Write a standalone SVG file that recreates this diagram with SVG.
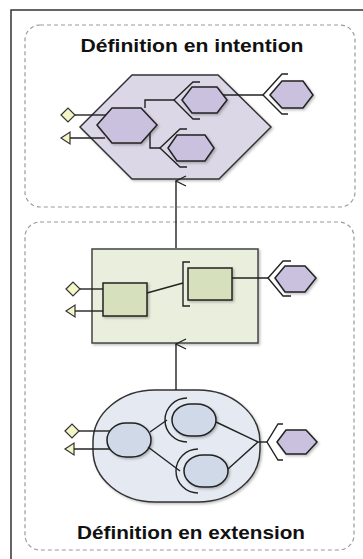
<svg xmlns="http://www.w3.org/2000/svg" width="363" height="559" viewBox="0 0 363 559">
<defs>
<filter id="sh" x="-10%" y="-10%" width="130%" height="130%">
<feDropShadow dx="1.5" dy="1.5" stdDeviation="1" flood-color="#000" flood-opacity="0.25"/>
</filter>
<marker id="arr" viewBox="0 0 12 12" refX="6" refY="1" markerWidth="12" markerHeight="12" markerUnits="userSpaceOnUse" orient="auto-start-reverse">
<path d="M1,11 L6,1 L11,11" fill="none" stroke="#222" stroke-width="1.3"/>
</marker>
</defs>
<style>
.frame{fill:none;stroke:#333;stroke-width:1.5}
.zone{fill:none;stroke:#9a9a9a;stroke-width:1.2;stroke-dasharray:4,3}
.title{font-family:"Liberation Sans",Arial,sans-serif;font-weight:bold;font-size:19px;fill:#111;text-anchor:middle}
.ln{fill:none;stroke:#222;stroke-width:1.4}
.sock{fill:none;stroke:#222;stroke-width:1.4}
.bighex{fill:#dcd7e7;stroke:#333;stroke-width:1.5}
.hex{fill:#c9c1dd;stroke:#222;stroke-width:1.5}
.bigrect{fill:#e9efdc;stroke:#444;stroke-width:1.5}
.rect{fill:#d6e0bd;stroke:#222;stroke-width:1.5}
.bigoval{fill:#e5eaf2;stroke:#333;stroke-width:1.5}
.oval{fill:#cfd9e8;stroke:#222;stroke-width:1.5}
.port{fill:#f4f6c6;stroke:#333;stroke-width:1.2}
</style>
<rect width="363" height="559" fill="#fff"/>
<path class="frame" d="M11,559 V10 H363"/>
<rect class="zone" x="25" y="25" width="330" height="182" rx="15"/>
<rect class="zone" x="25" y="222" width="329" height="328" rx="15"/>
<text class="title" x="192" y="52" textLength="223" lengthAdjust="spacingAndGlyphs">Définition en intention</text>
<text class="title" x="191" y="539" textLength="228" lengthAdjust="spacingAndGlyphs">Définition en extension</text>

<g id="intention">
<polygon class="bighex" filter="url(#sh)" points="80,127 132,75 218,75 271,127 219,179 132,179"/>
<polygon class="hex" filter="url(#sh)" points="97,125 112,108 141,108 157,125 141,143 112,143"/>
<polygon class="hex" filter="url(#sh)" points="182,100 192,87 217,87 227,100 217,113 192,113"/>
<polyline class="sock" points="200,82 193,82 174,100 193,119 200,119"/>
<polygon class="hex" filter="url(#sh)" points="168,148 177,135 205,135 214,148 205,161 177,161"/>
<polyline class="sock" points="187,129 180,129 160,148 180,167 187,167"/>
<polygon class="port" points="61,115 68,108 75,115 68,122"/>
<polygon class="port" points="61,138 70,132 70,144"/>
</g>
<g id="intention-ext">
<polygon class="hex" filter="url(#sh)" points="270,95 282,81 303,81 313,95 303,108 282,108"/>
<polyline class="sock" points="288,74 282,74 263,95 282,114 288,114"/>
</g>

<g id="composant">
<rect class="bigrect" filter="url(#sh)" x="92" y="249" width="166" height="94"/>
<rect class="rect" filter="url(#sh)" x="103" y="283" width="44" height="33"/>
<rect class="rect" filter="url(#sh)" x="188" y="268" width="44" height="32"/>
<polyline class="sock" points="190,262 183,262 183,306 190,306"/>
<polygon class="port" points="66,289 73,282 80,289 73,296"/>
<polygon class="port" points="66,311 75,305 75,317"/>
</g>
<g id="composant-ext">
<polygon class="hex" filter="url(#sh)" points="275,278 285,266 305,266 316,278 305,292 285,292"/>
<polyline class="sock" points="291,261 283,261 268,278 283,296 291,296"/>
</g>

<g id="extension">
<rect class="bigoval" filter="url(#sh)" x="93" y="390" width="167" height="112" rx="62" ry="52"/>
<rect class="oval" filter="url(#sh)" x="107" y="423" width="44" height="34" rx="19" ry="17"/>
<rect class="oval" filter="url(#sh)" x="172" y="404" width="44" height="32" rx="19" ry="16"/>
<path class="sock" d="M187,398 A22,22 0 0 0 187,442"/>
<rect class="oval" filter="url(#sh)" x="184" y="455" width="44" height="32" rx="19" ry="16"/>
<path class="sock" d="M198,449 A22,22 0 0 0 198,493"/>
<polygon class="port" points="65,431 72,424 79,431 72,438"/>
<polygon class="port" points="65,449 74,443 74,455"/>
</g>
<g id="extension-ext">
<polygon class="hex" filter="url(#sh)" points="277,442 286,430 306,430 317,442 306,454 286,454"/>
<polyline class="sock" points="283,424 278,424 267,442 278,460 283,460"/>
</g>

<g id="connectors">
<line class="ln" x1="75" y1="115" x2="106" y2="115"/>
<line class="ln" x1="70" y1="138" x2="105" y2="138"/>
<polyline class="ln" points="145,108 145,100 174,100"/>
<polyline class="ln" points="150,133 150,148 160,148"/>
<line class="ln" x1="223" y1="95" x2="263" y2="95"/>
<line class="ln" x1="176" y1="248" x2="176" y2="181" marker-end="url(#arr)"/>
<line class="ln" x1="80" y1="289" x2="103" y2="289"/>
<line class="ln" x1="75" y1="311" x2="103" y2="311"/>
<line class="ln" x1="147" y1="293" x2="183" y2="283"/>
<line class="ln" x1="232" y1="278" x2="268" y2="278"/>
<line class="ln" x1="176" y1="390" x2="176" y2="344" marker-end="url(#arr)"/>
<line class="ln" x1="79" y1="431" x2="110" y2="431"/>
<line class="ln" x1="74" y1="449" x2="110" y2="449"/>
<line class="ln" x1="150" y1="432" x2="167" y2="420"/>
<line class="ln" x1="148" y1="447" x2="180" y2="471"/>
<line class="ln" x1="216" y1="422" x2="258" y2="442"/>
<line class="ln" x1="228" y1="469" x2="258" y2="442"/>
<line class="ln" x1="258" y1="442" x2="267" y2="442"/>
</g>
</svg>
